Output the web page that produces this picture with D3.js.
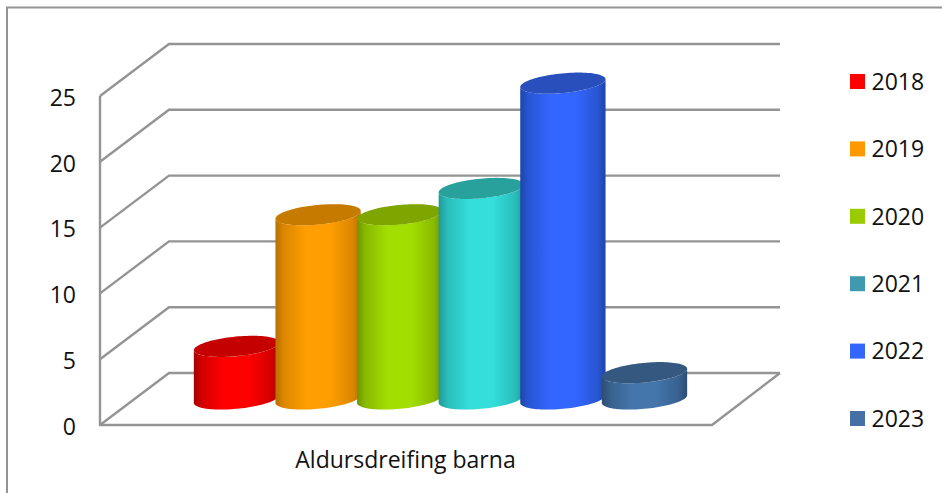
<!DOCTYPE html>
<html>
<head>
<meta charset="utf-8">
<script src="https://cdn.jsdelivr.net/npm/d3@7"></script>
<style>
  html, body { margin: 0; padding: 0; background: #fff; }
  text { font-family: "Open Sans", sans-serif; fill: #111; }
</style>
</head>
<body>
<div id="chart"></div>
<script>
/* DATA */
const years = ["2018", "2019", "2020", "2021", "2022", "2023"];
const values = [4, 14, 14, 16, 24, 2];
const yTicks = [0, 5, 10, 15, 20, 25];
const categoryLabel = "Aldursdreifing barna";

// side colours: edge, middle, top ellipse, legend swatch
const edgeColors = ["#a80000", "#b87000", "#6e9600", "#1f9a98", "#1f45a8", "#2c4d72"];
const midColors = ["#ff0000", "#ff9e00", "#a2de00", "#33dedb", "#3366ff", "#4475ab"];
const topColors = ["#c40000", "#c67a00", "#7fa500", "#28a09c", "#284fbc", "#34587f"];
const legendColors = ["#ff0000", "#ff9900", "#99cc00", "#3f9ab0", "#3366ff", "#4470a6"];

/* CONSTANTS */
const width = 942,
  height = 493,
  front = { left: 100, right: 712, top: 96, bottom: 425 },
  depth = { x: 69, y: -52 },
  axisColor = "#949494",
  fontSize = 23;

const svg = d3.select("#chart").append("svg")
  .attr("width", width)
  .attr("height", height)
  .style("display", "block");

const xScale = d3.scaleBand()
  .domain(years)
  .range([front.left, front.right])
  .paddingInner(0)
  .paddingOuter(0.75);

const yScale = d3.scaleLinear()
  .domain([0, 25])
  .range([front.bottom, front.top]);

const legendScale = d3.scalePoint()
  .domain(years)
  .range([81.5, 418.5]);

// outer frame, only left and top show inside the crop
svg.append("path")
  .attr("d", `M7,${height}V7.5H${width}`)
  .attr("fill", "none")
  .attr("stroke", axisColor)
  .attr("stroke-width", 2);

/* WALLS AND FLOOR */
const walls = svg.append("g")
  .attr("fill", "none")
  .attr("stroke", axisColor)
  .attr("stroke-width", 2.4)
  .attr("stroke-linejoin", "miter");

walls.selectAll("path.grid")
  .data(yTicks)
  .join("path")
  .attr("class", "grid")
  .attr("d", d => {
    const y = yScale(d);
    return `M${front.left},${y}L${front.left + depth.x},${y + depth.y}H780`;
  });

walls.append("path")
  .attr("d", `M${front.left},${front.top}V${front.bottom}H${front.right}L780,${front.bottom + depth.y}`);

/* Y AXIS LABELS */
svg.append("g").selectAll("text")
  .data(yTicks)
  .join("text")
  .attr("x", 76)
  .attr("y", d => yScale(d) + 1.5)
  .attr("dy", "0.36em")
  .attr("text-anchor", "end")
  .attr("font-size", fontSize)
  .text(d => d);

/* CYLINDERS */
const defs = svg.append("defs");
years.forEach((year, i) => {
  const shade = d3.interpolateRgb(edgeColors[i], midColors[i]);
  const grad = defs.append("linearGradient").attr("id", "side" + year);
  [[0, 0], [10, 0.5], [36, 1], [64, 1], [90, 0.5], [100, 0]].forEach(s => {
    grad.append("stop").attr("offset", s[0] + "%").attr("stop-color", shade(s[1]));
  });
});

const rx = xScale.bandwidth() * 0.525,
  ry = 9.8,
  tilt = 5.5 * Math.PI / 180;

// point on the tilted ellipse
const ellipsePoint = (cx, cy, angle) => [
  cx + rx * Math.cos(angle) * Math.cos(tilt) + ry * Math.sin(angle) * Math.sin(tilt),
  cy - rx * Math.cos(angle) * Math.sin(tilt) + ry * Math.sin(angle) * Math.cos(tilt)
];

// start where the ellipse reaches its right extreme so the sides meet it cleanly
const startAngle = Math.atan2(ry * Math.sin(tilt), rx * Math.cos(tilt));
const lowerHalf = d3.range(0, 49).map(k => startAngle + k / 48 * Math.PI);
const fullTurn = d3.range(0, 97).map(k => k / 96 * 2 * Math.PI);
const pathLine = d3.line();

const bars = svg.append("g").selectAll("g")
  .data(years)
  .join("g");

bars.append("path")
  .attr("fill", d => `url(#side${d})`)
  .attr("d", (d, i) => {
    const cx = xScale(d) + xScale.bandwidth() / 2 + depth.x / 2;
    const baseY = yScale(0) + depth.y / 2;
    const topY = yScale(values[i]) + depth.y / 2;
    const lower = lowerHalf.map(a => ellipsePoint(cx, baseY, a));
    const upper = lowerHalf.map(a => ellipsePoint(cx, topY, a)).reverse();
    return pathLine(lower.concat(upper)) + "Z";
  });

bars.append("path")
  .attr("fill", (d, i) => topColors[i])
  .attr("d", (d, i) => {
    const cx = xScale(d) + xScale.bandwidth() / 2 + depth.x / 2;
    const topY = yScale(values[i]) + depth.y / 2;
    return pathLine(fullTurn.map(a => ellipsePoint(cx, topY, a))) + "Z";
  });

/* CATEGORY LABEL */
svg.append("text")
  .attr("x", 405.5)
  .attr("y", 468)
  .attr("text-anchor", "middle")
  .attr("font-size", fontSize)
  .text(categoryLabel);

/* LEGEND */
const legend = svg.append("g").selectAll("g")
  .data(years)
  .join("g")
  .attr("transform", d => `translate(850,${legendScale(d)})`);

legend.append("rect")
  .attr("y", -7.5)
  .attr("width", 15)
  .attr("height", 15)
  .attr("fill", (d, i) => legendColors[i]);

legend.append("text")
  .attr("x", 21.5)
  .attr("dy", "0.36em")
  .attr("font-size", fontSize)
  .text(d => d);
</script>
</body>
</html>
